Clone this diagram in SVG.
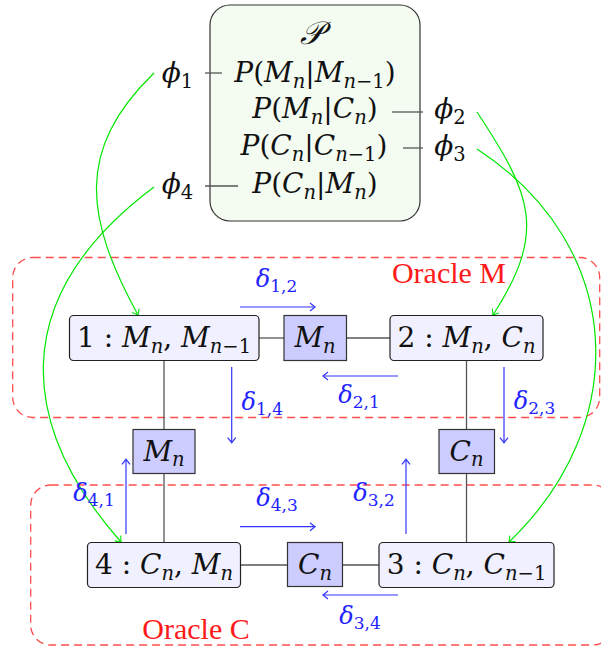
<svg xmlns="http://www.w3.org/2000/svg" width="601" height="648" viewBox="0 0 601 648">
<style>
.m{font-family:"DejaVu Serif",serif;font-size:28px;fill:#111;text-anchor:middle}
.i{font-style:italic}
.s{font-size:19.5px}
.cal{font-size:32px}
.d{font-family:"DejaVu Serif",serif;font-size:24px;fill:#2222ff;text-anchor:middle}
.ds{font-size:17px;font-style:normal}
.or{font-family:"Liberation Serif",serif;font-size:30px;fill:#ff1a1a;text-anchor:middle}
.ob{fill:none;stroke:#ff4d4d;stroke-width:1.3;stroke-dasharray:8,5}
.nd{fill:#f0f0ff;stroke:#222;stroke-width:1.2}
.vb{fill:#ccccff;stroke:#333;stroke-width:1.2}
.ln{stroke:#555;stroke-width:1.3;fill:none}
.gr{stroke:#00e600;stroke-width:1.2;fill:none;marker-end:url(#ag)}
.bl{stroke:#3333ff;stroke-width:1.2;fill:none;marker-end:url(#ab)}
</style>
<defs>
<marker id="ag" viewBox="-7 -6 9 12" markerWidth="9" markerHeight="12" refX="0" refY="0" orient="auto" markerUnits="userSpaceOnUse"><path d="M-5,-4 Q-1.5,-1.2 0,0 Q-1.5,1.2 -5,4" fill="none" stroke="#00e600" stroke-width="1.1"/></marker>
<marker id="ab" viewBox="-7 -6 9 12" markerWidth="9" markerHeight="12" refX="0" refY="0" orient="auto" markerUnits="userSpaceOnUse"><path d="M-5,-4 Q-1.5,-1.2 0,0 Q-1.5,1.2 -5,4" fill="none" stroke="#3333ff" stroke-width="1.2"/></marker>
</defs>

<g id="oracleM"><rect class="ob" x="12.7" y="257.5" width="587" height="160" rx="20"/><text class="or" x="449" y="282.5">Oracle M</text></g>
<g id="oracleC"><rect class="ob" x="30.7" y="485" width="582" height="160" rx="20"/><text class="or" x="196" y="639">Oracle C</text></g>

<g id="P">
<rect x="210" y="5" width="210" height="216" rx="20" fill="#f4fcf2" stroke="#333" stroke-width="1.2"/>
<text class="m" x="311" y="44"><tspan class="i cal">𝒫</tspan></text>
<text class="m" x="315" y="82"><tspan class="i">P</tspan>(<tspan class="i">M</tspan><tspan class="s i" dy="5.5">n</tspan><tspan dy="-5.5">|</tspan><tspan class="i">M</tspan><tspan class="s" dy="5.5"><tspan class="i">n</tspan>−1</tspan><tspan dy="-5.5">)</tspan></text>
<text class="m" x="315" y="118"><tspan class="i">P</tspan>(<tspan class="i">M</tspan><tspan class="s i" dy="5.5">n</tspan><tspan dy="-5.5">|</tspan><tspan class="i">C</tspan><tspan class="s i" dy="5.5">n</tspan><tspan dy="-5.5">)</tspan></text>
<text class="m" x="314" y="155"><tspan class="i">P</tspan>(<tspan class="i">C</tspan><tspan class="s i" dy="5.5">n</tspan><tspan dy="-5.5">|</tspan><tspan class="i">C</tspan><tspan class="s" dy="5.5"><tspan class="i">n</tspan>−1</tspan><tspan dy="-5.5">)</tspan></text>
<text class="m" x="315" y="193"><tspan class="i">P</tspan>(<tspan class="i">C</tspan><tspan class="s i" dy="5.5">n</tspan><tspan dy="-5.5">|</tspan><tspan class="i">M</tspan><tspan class="s i" dy="5.5">n</tspan><tspan dy="-5.5">)</tspan></text>
</g>

<g id="connectors">
<line class="ln" x1="205" y1="73" x2="222" y2="73"/>
<line class="ln" x1="392" y1="112" x2="423" y2="112"/>
<line class="ln" x1="403" y1="148" x2="423" y2="148"/>
<line class="ln" x1="205" y1="186" x2="238" y2="186"/>
<line class="ln" x1="259" y1="338" x2="284" y2="338"/>
<line class="ln" x1="346.5" y1="338" x2="390" y2="338"/>
<line class="ln" x1="164" y1="360.5" x2="164" y2="429.5"/>
<line class="ln" x1="164" y1="473.5" x2="164" y2="542.5"/>
<line class="ln" x1="466.5" y1="360.5" x2="466.5" y2="429.5"/>
<line class="ln" x1="466.5" y1="473.5" x2="466.5" y2="542.5"/>
<line class="ln" x1="240.5" y1="565" x2="287.5" y2="565"/>
<line class="ln" x1="342.5" y1="565" x2="379" y2="565"/>
<path class="gr" d="M154,73 C74.8,150 85.2,218.2 138,315"/>
<path class="gr" d="M154,187 C2,301 22,429.5 121,542"/>
<path class="gr" d="M477,112 C532,195.5 547,231 493,315"/>
<path class="gr" d="M477,149 C628,248 631,425 509,542"/>
<line class="bl" x1="240" y1="307" x2="315" y2="307"/>
<line class="bl" x1="398" y1="376" x2="323" y2="376"/>
<line class="bl" x1="231.7" y1="367" x2="231.7" y2="442.7"/>
<line class="bl" x1="504" y1="367" x2="504" y2="442.7"/>
<line class="bl" x1="126" y1="534" x2="126" y2="459.3"/>
<line class="bl" x1="406" y1="534" x2="406" y2="459.3"/>
<line class="bl" x1="240" y1="526.7" x2="315" y2="526.7"/>
<line class="bl" x1="398" y1="595" x2="323" y2="595"/>
<text class="d" x="276.5" y="287"><tspan class="i">δ</tspan><tspan class="ds" dy="5">1,2</tspan></text>
<text class="d" x="359" y="403"><tspan class="i">δ</tspan><tspan class="ds" dy="5">2,1</tspan></text>
<text class="d" x="262.3" y="410"><tspan class="i">δ</tspan><tspan class="ds" dy="5">1,4</tspan></text>
<text class="d" x="534.5" y="409"><tspan class="i">δ</tspan><tspan class="ds" dy="5">2,3</tspan></text>
<text class="d" x="94" y="501"><tspan class="i">δ</tspan><tspan class="ds" dy="5">4,1</tspan></text>
<text class="d" x="374" y="501"><tspan class="i">δ</tspan><tspan class="ds" dy="5">3,2</tspan></text>
<text class="d" x="277" y="506"><tspan class="i">δ</tspan><tspan class="ds" dy="5">4,3</tspan></text>
<text class="d" x="360" y="624"><tspan class="i">δ</tspan><tspan class="ds" dy="5">3,4</tspan></text>
</g>

<g id="phi1"><text class="m" x="177.5" y="82"><tspan class="i">ϕ</tspan><tspan class="s" dy="5.5">1</tspan></text></g>
<g id="phi2"><text class="m" x="450" y="118"><tspan class="i">ϕ</tspan><tspan class="s" dy="5.5">2</tspan></text></g>
<g id="phi3"><text class="m" x="450" y="155"><tspan class="i">ϕ</tspan><tspan class="s" dy="5.5">3</tspan></text></g>
<g id="phi4"><text class="m" x="177.5" y="193"><tspan class="i">ϕ</tspan><tspan class="s" dy="5.5">4</tspan></text></g>

<g id="node1"><rect class="nd" x="69.5" y="315.5" width="189.5" height="45" rx="4"/><text class="m" x="164" y="347">1 : <tspan class="i">M</tspan><tspan class="s i" dy="5.5">n</tspan><tspan dy="-5.5">, </tspan><tspan class="i">M</tspan><tspan class="s" dy="5.5"><tspan class="i">n</tspan>−1</tspan></text></g>
<g id="msgM12"><rect class="vb" x="284" y="315.5" width="62.5" height="45"/><text class="m" x="315" y="347"><tspan class="i">M</tspan><tspan class="s i" dy="5.5">n</tspan></text></g>
<g id="node2"><rect class="nd" x="390" y="315.5" width="153" height="45" rx="4"/><text class="m" x="466.5" y="347">2 : <tspan class="i">M</tspan><tspan class="s i" dy="5.5">n</tspan><tspan dy="-5.5">, </tspan><tspan class="i">C</tspan><tspan class="s i" dy="5.5">n</tspan></text></g>
<g id="msgM14"><rect class="vb" x="133" y="429.5" width="62" height="44"/><text class="m" x="164" y="460.5"><tspan class="i">M</tspan><tspan class="s i" dy="5.5">n</tspan></text></g>
<g id="msgC23"><rect class="vb" x="439" y="429.5" width="55.5" height="44"/><text class="m" x="466.5" y="460.5"><tspan class="i">C</tspan><tspan class="s i" dy="5.5">n</tspan></text></g>
<g id="node4"><rect class="nd" x="87.5" y="542.5" width="153" height="45" rx="4"/><text class="m" x="164" y="574">4 : <tspan class="i">C</tspan><tspan class="s i" dy="5.5">n</tspan><tspan dy="-5.5">, </tspan><tspan class="i">M</tspan><tspan class="s i" dy="5.5">n</tspan></text></g>
<g id="msgC34"><rect class="vb" x="287.5" y="542.5" width="55" height="44"/><text class="m" x="315" y="574"><tspan class="i">C</tspan><tspan class="s i" dy="5.5">n</tspan></text></g>
<g id="node3"><rect class="nd" x="379" y="542.5" width="175" height="45" rx="4"/><text class="m" x="466.5" y="574">3 : <tspan class="i">C</tspan><tspan class="s i" dy="5.5">n</tspan><tspan dy="-5.5">, </tspan><tspan class="i">C</tspan><tspan class="s" dy="5.5"><tspan class="i">n</tspan>−1</tspan></text></g>
</svg>
